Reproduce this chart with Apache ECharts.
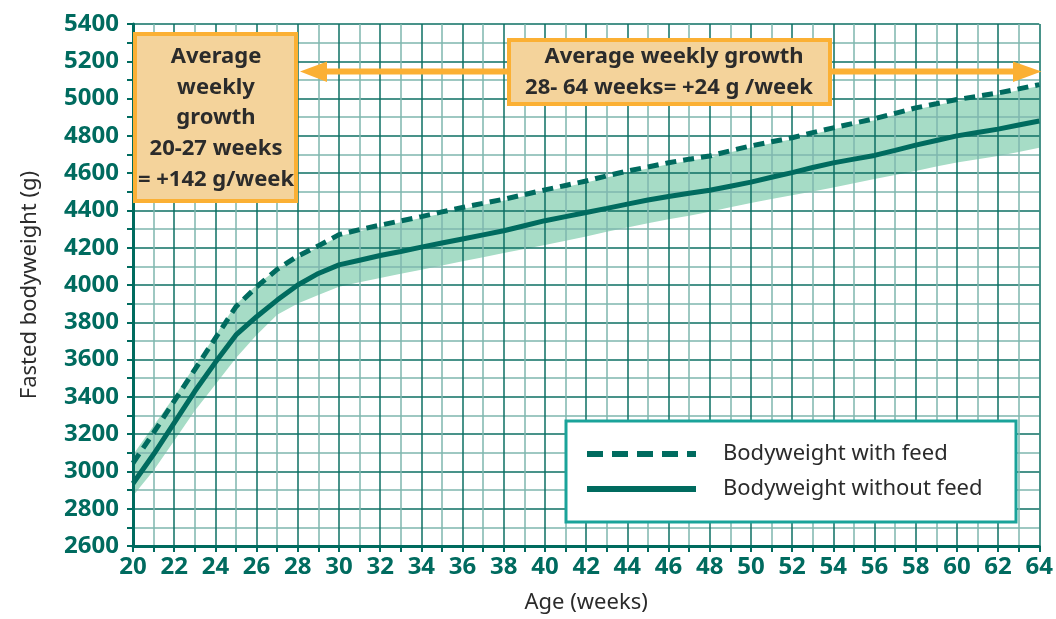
<!DOCTYPE html>
<html>
<head>
<meta charset="utf-8">
<script src="https://cdn.jsdelivr.net/npm/echarts@6/dist/echarts.min.js"></script>
<style>html,body{margin:0;padding:0;background:#fff}#chart{width:1056px;height:619px}</style>
</head>
<body>
<div id="chart"></div>
<script>
// ---- data ----
const weeks = [20,21,22,23,24,25,26,27,28,29,30,31,32,33,34,35,36,37,38,39,40,41,42,43,44,45,46,47,48,49,50,51,52,53,54,55,56,57,58,59,60,61,62,63,64];
const withFeed = [3045,3208,3377,3546,3715,3884,3990,4084,4155,4210,4270,4297,4321,4344,4367,4392,4416,4438,4460,4485,4510,4534,4558,4585,4611,4633,4656,4675,4692,4720,4746,4768,4790,4817,4843,4868,4892,4921,4950,4972,4995,5012,5030,5052,5075];
const withoutFeed = [2935,3092,3261,3430,3585,3732,3830,3919,4000,4062,4108,4133,4158,4180,4203,4225,4247,4269,4291,4318,4345,4367,4389,4411,4434,4456,4475,4492,4508,4530,4552,4578,4603,4630,4655,4675,4695,4722,4750,4775,4800,4818,4836,4858,4880];
const bandLower = [2870,3005,3165,3325,3466,3608,3732,3840,3901,3946,3990,4015,4038,4060,4082,4105,4127,4149,4171,4193,4215,4238,4260,4285,4309,4331,4353,4372,4393,4417,4440,4461,4482,4502,4523,4546,4568,4590,4612,4635,4657,4675,4692,4714,4736];
const bandUpper = [3090,3245,3400,3565,3730,3895,4000,4085,4150,4203,4262,4289,4313,4336,4359,4384,4408,4430,4452,4477,4502,4526,4550,4577,4603,4625,4648,4667,4684,4712,4738,4760,4782,4809,4835,4860,4884,4913,4942,4964,4987,5004,5022,5044,5067];
const seriesNames = ['Bodyweight with feed', 'Bodyweight without feed'];
const xLabelRange = [20, 64];
const yLabelRange = [2600, 5400];
const noteLeft = ['Average', 'weekly', 'growth', '20-27 weeks', '= +142 g/week'];
const noteRight = ['Average weekly growth', '28- 64 weeks= +24 g /week'];

const TEAL = '#006b5f';
const MAJOR = '#0d6f63';
const MINOR = '#7fb6ae';
const ORANGE = '#fbb034';
const BOXFILL = '#f4d39b';
const BAND = '#a6dcc6';

const pairs = (ys) => weeks.map((w, i) => [w, ys[i]]);

const chart = echarts.init(document.getElementById('chart'));
const noteText = (x, y, t) => ({ type: 'text', z: 12, style: { x: x, y: y, text: t, textAlign: 'center', textVerticalAlign: 'middle', fontFamily: 'Noto Sans', fontWeight: 'bold', fontSize: 22, fill: '#2b2b2b' } });
const option = {
  animation: false,
  backgroundColor: '#ffffff',
  grid: { left: 133, right: 15, top: 24, bottom: 70, containLabel: false },
  xAxis: {
    type: 'value', min: xLabelRange[0], max: xLabelRange[1], interval: 2, z: 2,
    name: 'Age (weeks)', nameLocation: 'middle', nameGap: 46,
    nameTextStyle: { fontFamily: 'Noto Sans', fontSize: 22, color: '#2b2b2b' },
    axisLine: { show: true, lineStyle: { color: TEAL, width: 3 } },
    axisTick: { show: true, length: 6, lineStyle: { color: TEAL, width: 2 } },
    minorTick: { show: true, splitNumber: 2, length: 6, lineStyle: { color: TEAL, width: 2 } },
    splitLine: { show: true, lineStyle: { color: MAJOR, width: 1.5 } },
    minorSplitLine: { show: true, lineStyle: { color: MINOR, width: 1.5 } },
    axisLabel: { margin: 9, fontFamily: 'Noto Sans', fontWeight: 'bold', fontSize: 24, color: TEAL, formatter: (v) => String(v) }
  },
  yAxis: {
    type: 'value', min: yLabelRange[0], max: yLabelRange[1], interval: 200, z: 2,
    name: 'Fasted bodyweight (g)', nameLocation: 'middle', nameGap: 92,
    nameTextStyle: { fontFamily: 'Noto Sans', fontSize: 22, color: '#2b2b2b' },
    axisLine: { show: true, lineStyle: { color: TEAL, width: 3 } },
    axisTick: { show: true, length: 6, lineStyle: { color: TEAL, width: 2 } },
    minorTick: { show: true, splitNumber: 2, length: 6, lineStyle: { color: TEAL, width: 2 } },
    splitLine: { show: true, lineStyle: { color: MAJOR, width: 1.5 } },
    minorSplitLine: { show: true, lineStyle: { color: MINOR, width: 1.5 } },
    axisLabel: { margin: 14, fontFamily: 'Noto Sans', fontWeight: 'bold', fontSize: 24, color: TEAL, formatter: (v) => String(v) }
  },
  legend: {
    data: [
      { name: seriesNames[0], lineStyle: { type: [16, 9], width: 6 } },
      { name: seriesNames[1], lineStyle: { width: 6 } }
    ],
    orient: 'vertical', left: 566, top: 421,
    padding: [20, 31, 20, 18], itemWidth: 109, itemHeight: 14, itemGap: 9,
    itemStyle: { opacity: 0 },
    backgroundColor: '#ffffff', borderColor: '#1aa39a', borderWidth: 3, borderRadius: 0,
    textStyle: { fontFamily: 'Noto Sans', fontSize: 22, color: '#2b2b2b', width: 262, lineHeight: 26, padding: [0, 0, 0, 22] },
    z: 5
  },
  series: [
    { name: 'band', type: 'custom', silent: true, z: 1, clip: true,
      data: [[weeks[0], bandLower[0]]],
      encode: { x: 0, y: 1 },
      renderItem: function (params, api) {
        const top = weeks.map((w, i) => api.coord([w, bandUpper[i]]));
        const bot = weeks.map((w, i) => api.coord([w, bandLower[i]])).reverse();
        return { type: 'polygon', shape: { points: top.concat(bot) }, style: { fill: BAND } };
      } },
    { name: seriesNames[0], type: 'line', data: pairs(withFeed), symbol: 'none', z: 3,
      lineStyle: { color: TEAL, width: 5, type: [11, 7] }, itemStyle: { color: TEAL } },
    { name: seriesNames[1], type: 'line', data: pairs(withoutFeed), symbol: 'none', z: 3,
      lineStyle: { color: TEAL, width: 5 }, itemStyle: { color: TEAL } }
  ],
  graphic: [
    // arrow
    { type: 'line', z: 10, shape: { x1: 320, y1: 71.5, x2: 1020, y2: 71.5 }, style: { stroke: ORANGE, lineWidth: 6 } },
    { type: 'polygon', z: 10, shape: { points: [[300, 71.5], [327, 61.5], [327, 82]] }, style: { fill: ORANGE } },
    { type: 'polygon', z: 10, shape: { points: [[1041.5, 71.5], [1013, 61.5], [1013, 82]] }, style: { fill: ORANGE } },
    // left box
    { type: 'rect', z: 11, shape: { x: 135, y: 34, width: 161, height: 167 }, style: { fill: BOXFILL, stroke: ORANGE, lineWidth: 4 } },
    noteText(216, 57, noteLeft[0]),
    noteText(216, 88, noteLeft[1]),
    noteText(216, 118, noteLeft[2]),
    noteText(216, 149, noteLeft[3]),
    noteText(216, 180, noteLeft[4]),
    // right box
    { type: 'rect', z: 11, shape: { x: 509, y: 40, width: 321, height: 64 }, style: { fill: BOXFILL, stroke: ORANGE, lineWidth: 4 } },
    noteText(674, 57, noteRight[0]),
    noteText(669, 88, noteRight[1])
  ]
};
chart.setOption(option);
</script>
</body>
</html>
